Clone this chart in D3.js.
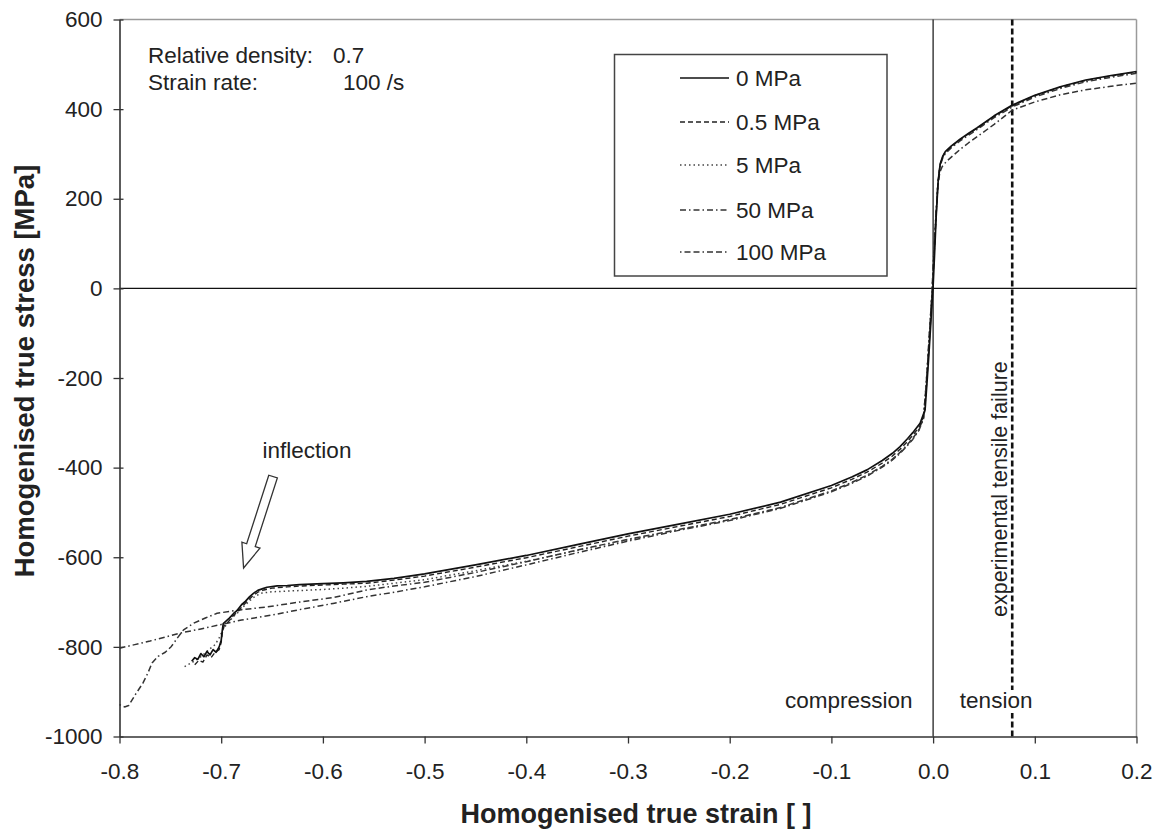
<!DOCTYPE html>
<html>
<head>
<meta charset="utf-8">
<script src="https://cdn.jsdelivr.net/npm/d3@7"></script>
<style>
  html, body { margin: 0; padding: 0; background: #fff; }
  svg { display: block; font-family: "Liberation Sans", Arial, Helvetica, sans-serif; }
</style>
</head>
<body>
<svg id="chart" width="1161" height="832"></svg>
<script>
// ---------- data ----------
const seriesNames = ["0 MPa", "0.5 MPa", "5 MPa", "50 MPa", "100 MPa"];

const curve0MPa = [
  [-0.729,-832],[-0.726,-824],[-0.723,-828],[-0.72,-815],[-0.717,-822],[-0.714,-810],[-0.711,-818],
  [-0.708,-806],[-0.705,-812],[-0.702,-800],[-0.700,-785],[-0.699,-765],[-0.698,-748],[-0.695,-742],
  [-0.692,-736],[-0.688,-726],[-0.684,-718],[-0.680,-706],[-0.676,-698],[-0.672,-688],[-0.668,-680],
  [-0.664,-674],[-0.659,-670],[-0.655,-667],[-0.645,-664],[-0.635,-663],[-0.623,-661],[-0.60,-659],
  [-0.58,-657],[-0.557,-654],[-0.53,-647],[-0.5,-637],[-0.45,-617],[-0.4,-596],[-0.35,-572],
  [-0.3,-548],[-0.25,-526],[-0.2,-504],[-0.15,-477],[-0.1,-440],[-0.08,-421],[-0.065,-405],
  [-0.05,-384],[-0.04,-368],[-0.0325,-353],[-0.025,-335],[-0.02,-322],[-0.0128,-301],[-0.0079,-271],
  [-0.006,-210],[-0.0045,-160],[-0.003,-105],[-0.0015,-50],[0,5],[0.0015,80],[0.003,160],[0.005,240],
  [0.007,278],[0.0095,295],[0.012,305],[0.018,318],[0.0265,333],[0.035,346],[0.043,358],[0.06,385],
  [0.078,409],[0.1,431],[0.125,450],[0.15,465],[0.175,475],[0.2,484]
];

const curve05MPa = [
  [-0.726,-840],[-0.722,-830],[-0.718,-834],[-0.714,-818],[-0.710,-824],[-0.706,-812],[-0.702,-806],
  [-0.700,-790],[-0.699,-770],[-0.697,-752],[-0.693,-744],[-0.688,-730],[-0.683,-720],[-0.679,-709],
  [-0.674,-697],[-0.669,-686],[-0.664,-678],[-0.658,-673],[-0.650,-669],[-0.635,-666],[-0.62,-664],
  [-0.60,-662],[-0.58,-660],[-0.557,-658],[-0.53,-651],[-0.5,-642],[-0.45,-622],[-0.4,-601],
  [-0.35,-577],[-0.3,-553],[-0.25,-531],[-0.2,-509],[-0.15,-482],[-0.1,-445],[-0.08,-426],
  [-0.065,-410],[-0.05,-390],[-0.04,-374],[-0.0325,-359],[-0.025,-341],[-0.02,-328],[-0.013,-307],
  [-0.0085,-280],[-0.0065,-215],[-0.005,-165],[-0.0035,-110],[-0.002,-55],[-0.0005,0],[0.001,75],
  [0.0028,155],[0.0048,236],[0.0068,275],[0.0093,293],[0.012,304],[0.018,317],[0.0265,332],
  [0.035,345],[0.043,357],[0.06,384],[0.078,408],[0.1,430],[0.125,449],[0.15,464],[0.175,474],[0.2,483]
];

const curve5MPa = [
  [-0.736,-844],[-0.728,-834],[-0.72,-822],[-0.712,-806],[-0.706,-795],[-0.702,-780],[-0.698,-760],
  [-0.693,-745],[-0.688,-733],[-0.683,-722],[-0.678,-710],[-0.672,-697],[-0.666,-686],[-0.66,-680],
  [-0.65,-677],[-0.63,-675],[-0.6,-672],[-0.58,-669],[-0.557,-665],[-0.53,-658],[-0.5,-650],
  [-0.45,-630],[-0.4,-609],[-0.35,-585],[-0.3,-561],[-0.25,-539],[-0.2,-517],[-0.15,-490],
  [-0.1,-453],[-0.08,-434],[-0.065,-418],[-0.05,-398],[-0.04,-382],[-0.0325,-367],[-0.025,-349],
  [-0.02,-336],[-0.014,-316],[-0.0095,-290],[-0.007,-220],[-0.0055,-170],[-0.004,-115],
  [-0.0025,-60],[-0.001,-5],[0.0005,70],[0.0025,152],[0.0047,234],[0.0068,274],[0.0093,292],
  [0.012,303],[0.018,316],[0.0265,331],[0.035,344],[0.043,356],[0.06,383],[0.078,407],[0.1,429],
  [0.125,448],[0.15,463],[0.175,473],[0.2,482]
];

const curve50MPa = [
  [-0.8,-803],[-0.785,-795],[-0.77,-787],[-0.755,-778],[-0.74,-769],[-0.72,-760],[-0.70,-750],
  [-0.68,-740],[-0.65,-729],[-0.623,-717],[-0.59,-703],[-0.557,-688],[-0.53,-678],[-0.5,-666],
  [-0.45,-643],[-0.4,-617],[-0.35,-590],[-0.3,-564],[-0.25,-540],[-0.2,-518],[-0.15,-491],
  [-0.1,-454],[-0.08,-435],[-0.065,-419],[-0.05,-399],[-0.04,-383],[-0.0325,-368],[-0.025,-350],
  [-0.02,-337],[-0.014,-317],[-0.0095,-292],[-0.007,-222],[-0.0055,-172],[-0.004,-117],
  [-0.0025,-62],[-0.001,-8],[0.0005,68],[0.0025,150],[0.0047,232],[0.0068,272],[0.0093,290],
  [0.012,301],[0.018,314],[0.0265,329],[0.035,342],[0.043,354],[0.06,381],[0.078,405],[0.1,427],
  [0.125,446],[0.15,461],[0.175,471],[0.2,480]
];

const curve100MPa = [
  [-0.8,-929],[-0.795,-934],[-0.791,-931],[-0.784,-905],[-0.777,-881],[-0.772,-858],[-0.768,-836],
  [-0.762,-821],[-0.755,-812],[-0.749,-799],[-0.743,-780],[-0.737,-762],[-0.727,-747],[-0.715,-735],
  [-0.704,-725],[-0.68,-717],[-0.655,-711],[-0.623,-700],[-0.59,-690],[-0.557,-673],[-0.53,-664],
  [-0.5,-656],[-0.45,-634],[-0.4,-610],[-0.35,-584],[-0.3,-560],[-0.25,-538],[-0.2,-516],
  [-0.15,-489],[-0.1,-452],[-0.08,-433],[-0.065,-417],[-0.05,-397],[-0.04,-381],[-0.0325,-366],
  [-0.025,-348],[-0.02,-335],[-0.014,-315],[-0.0095,-289],[-0.007,-220],[-0.0055,-170],
  [-0.004,-115],[-0.0025,-60],[-0.001,-5],[0.0005,60],[0.0025,150],[0.0045,225],[0.0065,258],
  [0.009,272],[0.013,283],[0.02,297],[0.0265,310],[0.035,325],[0.043,338],[0.06,366],[0.078,398],
  [0.1,416],[0.125,432],[0.15,443],[0.175,451],[0.2,458]
];

const xTicks = [-0.8,-0.7,-0.6,-0.5,-0.4,-0.3,-0.2,-0.1,0.0,0.1,0.2];
const xTickLabels = ["-0.8","-0.7","-0.6","-0.5","-0.4","-0.3","-0.2","-0.1","0.0","0.1","0.2"];
const yTicks = [600,400,200,0,-200,-400,-600,-800,-1000];
const yTickLabels = ["600","400","200","0","-200","-400","-600","-800","-1000"];

const failureStrain = 0.0778;
const arrowTail = [-0.649, -420];
const arrowTip = [-0.678, -624];

// ---------- chart ----------
const svg = d3.select("#chart");
const pLeft = 119.5, pRight = 1136.5, pTop = 19.5, pBottom = 736.5;
const x = d3.scaleLinear().domain([-0.8, 0.2]).range([pLeft, pRight]);
const y = d3.scaleLinear().domain([-1000, 600]).range([pBottom, pTop]);
const FONT = 22.5;

// plot frame (top/right light)
svg.append("line").attr("x1", pLeft).attr("x2", pRight).attr("y1", pTop).attr("y2", pTop)
  .attr("stroke", "#9a9a9a").attr("stroke-width", 1.5);
svg.append("line").attr("x1", pRight).attr("x2", pRight).attr("y1", pTop).attr("y2", pBottom)
  .attr("stroke", "#9a9a9a").attr("stroke-width", 1.5);

// reference lines
svg.append("line").attr("x1", pLeft).attr("x2", pRight).attr("y1", y(0)).attr("y2", y(0))
  .attr("stroke", "#111").attr("stroke-width", 1.2);
svg.append("line").attr("x1", x(0)).attr("x2", x(0)).attr("y1", pTop).attr("y2", pBottom)
  .attr("stroke", "#111").attr("stroke-width", 1.2);

// failure line
svg.append("line").attr("x1", x(failureStrain)).attr("x2", x(failureStrain))
  .attr("y1", pTop).attr("y2", pBottom)
  .attr("stroke", "#111").attr("stroke-width", 2.6).attr("stroke-dasharray", "6,3");

// axes
const xAxis = d3.axisBottom(x).tickValues(xTicks).tickFormat((d, i) => xTickLabels[i])
  .tickSizeInner(7).tickSizeOuter(0).tickPadding(20);
const gx = svg.append("g").attr("transform", `translate(0,${pBottom})`).call(xAxis);
gx.select(".domain").attr("stroke", "#333").attr("stroke-width", 1.6);
gx.selectAll(".tick line").attr("stroke", "#333").attr("stroke-width", 1.3);
gx.selectAll(".tick text").attr("font-size", FONT).attr("fill", "#222")
  .attr("font-family", "'Liberation Sans', Arial, sans-serif");

const yAxis = d3.axisLeft(y).tickValues(yTicks).tickFormat((d, i) => yTickLabels[i])
  .tickSizeInner(6).tickSizeOuter(0).tickPadding(11);
const gy = svg.append("g").attr("transform", `translate(${pLeft},0)`).call(yAxis);
gy.select(".domain").attr("stroke", "#333").attr("stroke-width", 1.6);
gy.selectAll(".tick line").attr("stroke", "#333").attr("stroke-width", 1.3).attr("x2", -6).attr("x1", 4);
gy.selectAll(".tick text").attr("font-size", FONT).attr("fill", "#222")
  .attr("font-family", "'Liberation Sans', Arial, sans-serif");

// curves
const styles = [
  { data: curve0MPa,   dash: null,              color: "#111", width: 1.7 },
  { data: curve05MPa,  dash: "5,3",             color: "#222", width: 1.4 },
  { data: curve5MPa,   dash: "1.5,3",           color: "#444", width: 1.5 },
  { data: curve50MPa,  dash: "6,3,1.5,3",       color: "#333", width: 1.5 },
  { data: curve100MPa, dash: "1.5,3,6,3,6,3",   color: "#333", width: 1.5 }
];
const line = d3.line().x(d => x(d[0])).y(d => y(d[1]));
const gCurves = svg.append("g");
styles.slice().reverse().forEach(s => {
  gCurves.append("path").datum(s.data).attr("d", line)
    .attr("fill", "none").attr("stroke", s.color).attr("stroke-width", s.width)
    .attr("stroke-linejoin", "round")
    .attr("stroke-dasharray", s.dash);
});

// text annotations
const txt = (t, xx, yy, opts = {}) => svg.append("text").attr("x", xx).attr("y", yy)
  .attr("font-size", opts.size || FONT).attr("fill", "#222")
  .attr("font-weight", opts.weight || "normal")
  .attr("text-anchor", opts.anchor || "start").text(t);

txt("Relative density:", 148, 63);
txt("0.7", 333, 63);
txt("Strain rate:", 148, 90);
txt("100 /s", 343, 90);

// compression / tension
txt("compression", x(-0.083), 708, { anchor: "middle" });
const tb = svg.append("rect").attr("fill", "#fff");
const tt = txt("tension", x(0.062), 708, { anchor: "middle" });
const bb = tt.node().getBBox();
tb.attr("x", bb.x - 1).attr("y", bb.y + 2).attr("width", bb.width + 2).attr("height", bb.height - 2);

// experimental tensile failure label
svg.append("text")
  .attr("transform", `translate(${x(failureStrain) - 5},617) rotate(-90)`)
  .attr("font-size", 21.5).attr("fill", "#222").text("experimental tensile failure");

// inflection + hollow arrow
txt("inflection", 307, 458, { anchor: "middle" });
(function () {
  const tx = x(arrowTail[0]), ty = y(arrowTail[1]);
  const px = x(arrowTip[0]), py = y(arrowTip[1]);
  const L = Math.hypot(px - tx, py - ty);
  const ux = (px - tx) / L, uy = (py - ty) / L;
  const nx = -uy, ny = ux;
  const sw = 4.5, hw = 9.5, hl = 24;
  const bx = px - ux * hl, by = py - uy * hl;
  const pts = [
    [tx + nx * sw, ty + ny * sw], [bx + nx * sw, by + ny * sw], [bx + nx * hw, by + ny * hw],
    [px, py], [bx - nx * hw, by - ny * hw], [bx - nx * sw, by - ny * sw], [tx - nx * sw, ty - ny * sw]
  ];
  svg.append("polygon").attr("points", pts.map(p => p.join(",")).join(" "))
    .attr("fill", "#fff").attr("stroke", "#333").attr("stroke-width", 1.3);
})();

// legend
const legend = svg.append("g");
legend.append("rect").attr("x", 614.5).attr("y", 54.5).attr("width", 272.5).attr("height", 221.5)
  .attr("fill", "#fff").attr("stroke", "#444").attr("stroke-width", 1.5);
const rowY = [78, 122, 165, 210, 252];
styles.forEach((s, i) => {
  legend.append("line").attr("x1", 680).attr("x2", 729).attr("y1", rowY[i]).attr("y2", rowY[i])
    .attr("stroke", s.color).attr("stroke-width", s.width).attr("stroke-dasharray", s.dash);
  legend.append("text").attr("x", 736).attr("y", rowY[i]).attr("dy", "0.36em")
    .attr("font-size", FONT).attr("fill", "#222").text(seriesNames[i]);
});

// axis titles
txt("Homogenised true strain [ ]", (pLeft + pRight) / 2 + 8, 823, { anchor: "middle", weight: "bold", size: 27 });
svg.append("text")
  .attr("transform", `translate(34,371) rotate(-90)`)
  .attr("text-anchor", "middle").attr("font-size", 27.5).attr("font-weight", "bold")
  .attr("fill", "#222").text("Homogenised true stress [MPa]");
</script>
</body>
</html>
